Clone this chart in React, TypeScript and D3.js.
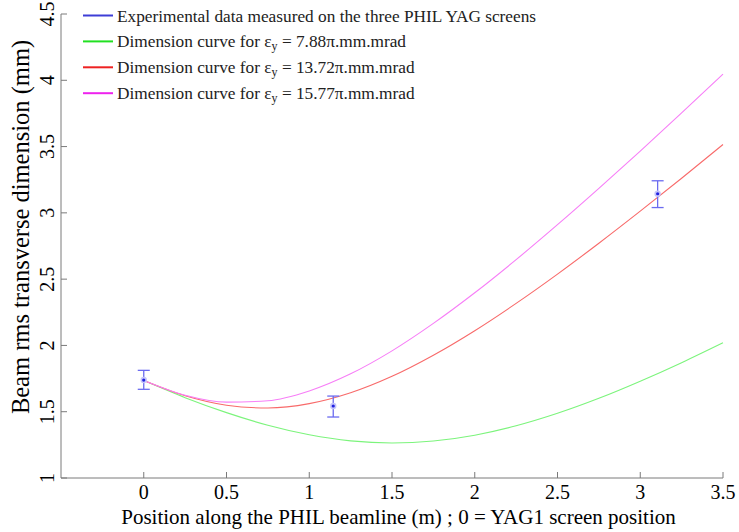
import React from "react";
import * as d3 from "d3";

const positions = [0, 0.25, 0.5, 0.75, 1, 1.25, 1.5, 1.75, 2, 2.25, 2.5, 2.75, 3, 3.25, 3.5];
const greenCurve = [1.735, 1.606, 1.493, 1.398, 1.326, 1.28, 1.264, 1.279, 1.323, 1.394, 1.488, 1.601, 1.73, 1.87, 2.02];
const redCurve = [1.735, 1.62, 1.549, 1.528, 1.561, 1.643, 1.767, 1.926, 2.111, 2.317, 2.538, 2.771, 3.013, 3.261, 3.516];
const magentaCurve = [1.735, 1.624, 1.572, 1.583, 1.657, 1.786, 1.959, 2.166, 2.397, 2.647, 2.911, 3.185, 3.466, 3.754, 4.046];

const measPos = [0, 1.145, 3.105];
const measVal = [1.739, 1.543, 3.144];
const measLow = [1.669, 1.46, 3.04];
const measHigh = [1.812, 1.618, 3.242];

const xTicks = [0, 0.5, 1, 1.5, 2, 2.5, 3, 3.5];
const yTicks = [1, 1.5, 2, 2.5, 3, 3.5, 4, 4.5];

const legendLabels = [
  { pre: "Experimental data measured on the three PHIL YAG screens", eps: "", color: "#3d3dd6" },
  { pre: "Dimension curve for ε", eps: "7.88π.mm.mrad", color: "#22e022" },
  { pre: "Dimension curve for ε", eps: "13.72π.mm.mrad", color: "#ee2222" },
  { pre: "Dimension curve for ε", eps: "15.77π.mm.mrad", color: "#ee22ee" },
];

const W = 739;
const H = 532;
const FONT = '"Liberation Serif"';

export default function App() {
  const x = d3.scaleLinear().domain([-0.5, 3.5]).range([61, 723]);
  const y = d3.scaleLinear().domain([1, 4.5]).range([478, 14]);
  const line = d3
    .line<number>()
    .x((_, i) => x(positions[i]))
    .y((d) => y(d))
    .curve(d3.curveMonotoneX);

  const curves = [
    { data: greenCurve, color: "#7cf47c" },
    { data: redCurve, color: "#f86a6a" },
    { data: magentaCurve, color: "#f77ef7" },
  ];
  const axisColor = "#7a7a7a";
  const tf = { fontFamily: FONT };

  return (
    <svg width={W} height={H} style={{ position: "absolute", left: 0, top: 0, background: "#fff" }}>
      <rect x={0} y={0} width={W} height={H} fill="#fff" />
      {/* axes */}
      <line x1={61} x2={61} y1={y(4.5)} y2={y(1)} stroke={axisColor} strokeWidth={1} />
      <line x1={61} x2={x(3.5)} y1={y(1)} y2={y(1)} stroke={axisColor} strokeWidth={1} />
      {xTicks.map((t) => (
        <g key={"xt" + t}>
          <line x1={x(t)} x2={x(t)} y1={y(1)} y2={y(1) - 6} stroke={axisColor} />
          <text x={x(t)} y={499} textAnchor="middle" style={tf} fontSize={20} fill="#000">
            {String(t)}
          </text>
        </g>
      ))}
      {yTicks.map((t) => (
        <g key={"yt" + t}>
          <line x1={61} x2={67} y1={y(t)} y2={y(t)} stroke={axisColor} />
          <text
            transform={`translate(54,${y(t)}) rotate(-90)`}
            textAnchor="middle"
            style={tf}
            fontSize={20}
            fill="#000"
          >
            {String(t)}
          </text>
        </g>
      ))}
      {/* axis titles */}
      <text x={398.5} y={524} textAnchor="middle" style={tf} fontSize={21} fill="#000">
        Position along the PHIL beamline (m) ; 0 = YAG1 screen position
      </text>
      <text
        transform={`translate(29,227) rotate(-90)`}
        textAnchor="middle"
        style={tf}
        fontSize={24.5}
        fill="#000"
      >
        Beam rms transverse dimension (mm)
      </text>
      {/* curves */}
      {curves.map((c, i) => (
        <path key={"c" + i} d={line(c.data) || ""} fill="none" stroke={c.color} strokeWidth={1.1} />
      ))}
      {/* measurements */}
      {measPos.map((p, i) => (
        <g key={"m" + i}>
          <line x1={x(p)} x2={x(p)} y1={y(measLow[i])} y2={y(measHigh[i])} stroke="#6b6bf0" strokeWidth={1.3} />
          <line x1={x(p) - 6} x2={x(p) + 6} y1={y(measLow[i])} y2={y(measLow[i])} stroke="#6b6bf0" strokeWidth={1.3} />
          <line x1={x(p) - 6} x2={x(p) + 6} y1={y(measHigh[i])} y2={y(measHigh[i])} stroke="#6b6bf0" strokeWidth={1.3} />
          <circle cx={x(p)} cy={y(measVal[i])} r={3.2} fill="#c4c4fa" />
          <circle cx={x(p)} cy={y(measVal[i])} r={1.6} fill="#2020e0" />
        </g>
      ))}
      {/* legend */}
      {legendLabels.map((l, i) => {
        const yy = 15.5 + i * 25.9;
        return (
          <g key={"lg" + i}>
            <line x1={83} x2={113} y1={yy} y2={yy} stroke={l.color} strokeWidth={2} />
            <text x={117} y={yy + 6} style={tf} fontSize={17.3} fill="#222">
              {l.pre}
              {l.eps && (
                <>
                  <tspan fontSize={12} dy={3}>y</tspan>
                  <tspan dy={-3}>{" = " + l.eps}</tspan>
                </>
              )}
            </text>
          </g>
        );
      })}
    </svg>
  );
}
